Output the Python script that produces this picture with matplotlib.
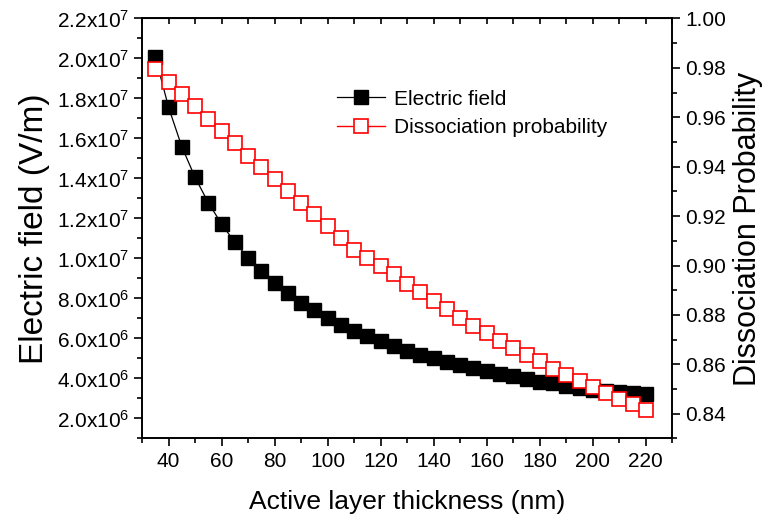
import numpy as np
import matplotlib
matplotlib.use("Agg")
import matplotlib.pyplot as plt
import matplotlib.ticker as ticker

# 数据：有源层厚度 (nm)
thickness = [35, 40, 45, 50, 55, 60, 65, 70, 75, 80,
             85, 90, 95, 100, 105, 110, 115, 120, 125, 130,
             135, 140, 145, 150, 155, 160, 165, 170, 175, 180,
             185, 190, 195, 200, 205, 210, 215, 220]

# 电场 (V/m)
e_field = [2.008e7, 1.755e7, 1.558e7, 1.405e7, 1.278e7, 1.172e7, 1.080e7, 1.004e7, 9.38e6, 8.78e6,
           8.28e6, 7.78e6, 7.42e6, 7.03e6, 6.67e6, 6.38e6, 6.11e6, 5.85e6, 5.62e6, 5.39e6,
           5.19e6, 5.00e6, 4.83e6, 4.67e6, 4.50e6, 4.37e6, 4.23e6, 4.10e6, 3.96e6, 3.84e6,
           3.75e6, 3.64e6, 3.54e6, 3.44e6, 3.38e6, 3.33e6, 3.28e6, 3.20e6]

# 解离概率
diss_prob = [0.9794, 0.9743, 0.9696, 0.9645, 0.9595, 0.9545, 0.9494, 0.9445, 0.9397, 0.9350,
             0.9302, 0.9254, 0.9208, 0.9159, 0.9110, 0.9064, 0.9030, 0.9000, 0.8965, 0.8927,
             0.8891, 0.8856, 0.8822, 0.8788, 0.8756, 0.8725, 0.8695, 0.8667, 0.8638, 0.8612,
             0.8583, 0.8557, 0.8533, 0.8509, 0.8485, 0.8460, 0.8438, 0.8415]

plt.rcParams['font.family'] = ['Liberation Sans', 'DejaVu Sans']
plt.rcParams['mathtext.fontset'] = 'custom'
plt.rcParams['mathtext.rm'] = 'Liberation Sans'
plt.rcParams['mathtext.it'] = 'Liberation Sans'
plt.rcParams['mathtext.default'] = 'regular'

fig = plt.figure(figsize=(7.64, 5.27), dpi=100)
ax = fig.add_axes([0.186, 0.168, 0.694, 0.797])
ax2 = ax.twinx()

l1, = ax.plot(thickness, e_field, color='black', lw=0.9, marker='s', ms=10,
              mfc='black', mec='black', label='Electric field', zorder=3)
l2, = ax2.plot(thickness, diss_prob, color='red', lw=1.0, marker='s', ms=10,
               mfc='white', mec='red', mew=1.2, label='Dissociation probability')

# 坐标轴范围
ax.set_xlim(30, 230)
ax.set_ylim(1e6, 2.2e7)
ax2.set_ylim(0.83, 1.00)

ax.xaxis.set_major_locator(ticker.MultipleLocator(20))
ax.xaxis.set_minor_locator(ticker.MultipleLocator(10))
ax.yaxis.set_major_locator(ticker.MultipleLocator(2e6))
ax.yaxis.set_minor_locator(ticker.MultipleLocator(1e6))
ax2.yaxis.set_major_locator(ticker.MultipleLocator(0.02))
ax2.yaxis.set_minor_locator(ticker.MultipleLocator(0.01))
ax.set_xticks([40, 60, 80, 100, 120, 140, 160, 180, 200, 220])


def sci_fmt(v, pos):
    if v <= 0:
        return ''
    exp = int(np.floor(np.log10(v)))
    mant = v / 10 ** exp
    return r'%.1fx10$^{%d}$' % (mant, exp)


ax.yaxis.set_major_formatter(ticker.FuncFormatter(sci_fmt))
ax2.yaxis.set_major_formatter(ticker.FormatStrFormatter('%.2f'))

for a in (ax, ax2):
    for sp in a.spines.values():
        sp.set_linewidth(1.2)

ax.tick_params(axis='both', which='major', direction='out', length=6, width=1.2, labelsize=15)
ax.tick_params(axis='both', which='minor', direction='out', length=3.5, width=1.2)
ax2.tick_params(axis='y', which='major', direction='out', length=6, width=1.2, labelsize=15)
ax2.tick_params(axis='y', which='minor', direction='out', length=3.5, width=1.2)

# 顶部刻度朝内，无标签
top = ax.secondary_xaxis('top')
top.xaxis.set_major_locator(ticker.MultipleLocator(10))
top.tick_params(direction='in', length=4, width=1.2, labelsize=0, labeltop=False)

ax.set_xlabel('Active layer thickness (nm)', fontsize=19, labelpad=14)
ax.set_ylabel('Electric field (V/m)', fontsize=24, labelpad=5)
ax2.set_ylabel('Dissociation Probability', fontsize=22, labelpad=5)

ax.legend(handles=[l1, l2], loc='upper left', bbox_to_anchor=(0.333, 0.875),
          frameon=False, fontsize=15, handlelength=2.3, handletextpad=0.4,
          labelspacing=0.45)

plt.savefig('out.png', dpi=100)
